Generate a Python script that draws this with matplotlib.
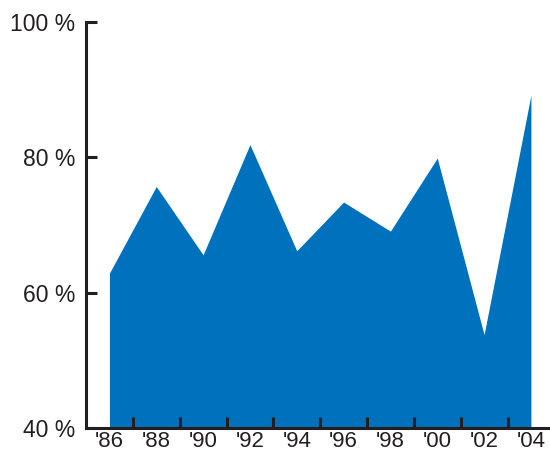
import numpy as np
import matplotlib.pyplot as plt

plt.rcParams['font.family'] = ['Liberation Sans', 'DejaVu Sans']

years = [1986, 1988, 1990, 1992, 1994, 1996, 1998, 2000, 2002, 2004]
values = [62.9, 75.7, 65.6, 81.9, 66.2, 73.4, 69.1, 79.9, 53.8, 89.2]
year_labels = ["'86", "'88", "'90", "'92", "'94", "'96", "'98", "'00", "'02", "'04"]
y_ticks = [40, 60, 80, 100]

ink = '#231f20'

fig = plt.figure(figsize=(5.5, 4.51), dpi=100)
ax = fig.add_axes([0.1564, 0.051, 0.84, 0.9])

ax.fill_between(years, values, 40, color='#0071bd', linewidth=0)

ax.set_xlim(1985, 2004.73)
ax.set_ylim(40, 100)

ax.spines['top'].set_visible(False)
ax.spines['right'].set_visible(False)
for s in ['left', 'bottom']:
    ax.spines[s].set_linewidth(2.2)
    ax.spines[s].set_color(ink)

ax.set_yticks(y_ticks)
ax.set_yticklabels([f'{v} %' for v in y_ticks], fontsize=16.5, color=ink)
ax.tick_params(axis='y', direction='in', length=8, width=2.2, color=ink, pad=8)

ax.set_xticks(years)
ax.set_xticklabels(year_labels, fontsize=16, color=ink)
ax.tick_params(axis='x', which='major', length=0, pad=2)
ax.set_xticks(np.arange(1987, 2004, 2), minor=True)
ax.tick_params(axis='x', which='minor', direction='in', length=8, width=2.2, color=ink)

fig.savefig('out.png', dpi=100)
